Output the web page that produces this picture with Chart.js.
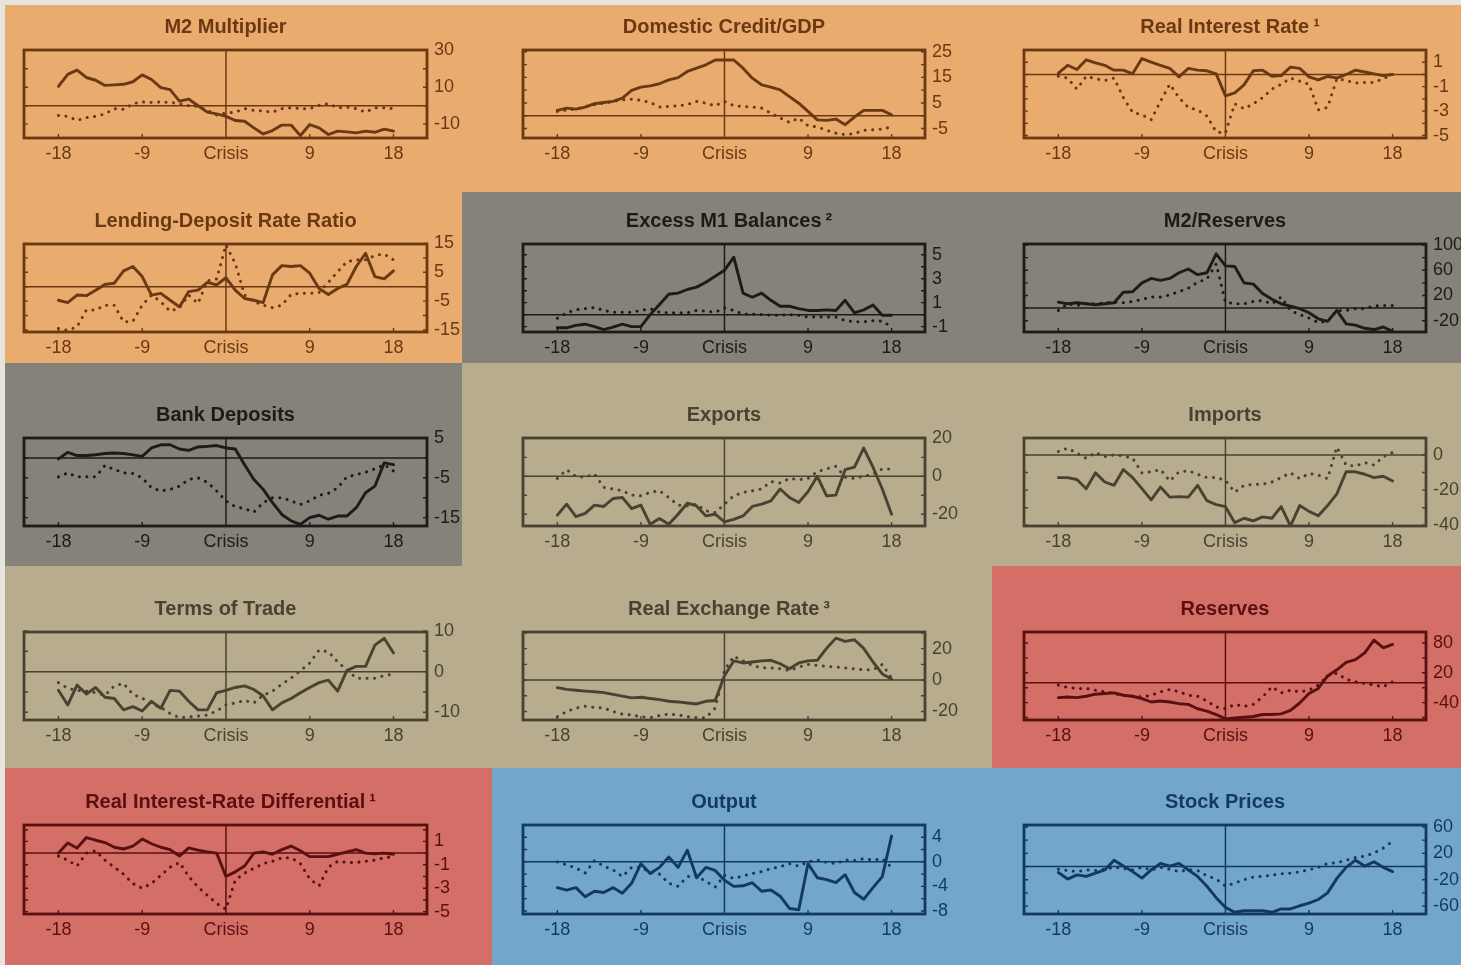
<!DOCTYPE html>
<html>
<head>
<meta charset="utf-8">
<title>Indicators around crises</title>
<script src="https://cdn.jsdelivr.net/npm/chart.js@4.4.1/dist/chart.umd.min.js"></script>
<style>
  html, body { margin: 0; padding: 0; }
  body {
    width: 1461px; height: 965px; overflow: hidden; position: relative;
    background: #E7E3DD;
    font-family: "Liberation Sans", Arial, sans-serif;
  }
  .bg { position: absolute; }
  canvas { position: absolute; }
</style>
</head>
<body>
<script>
// ---- months around the crisis date and the x-axis labels ----
const MONTHS = [-18,-17,-16,-15,-14,-13,-12,-11,-10,-9,-8,-7,-6,-5,-4,-3,-2,-1,0,1,2,3,4,5,6,7,8,9,10,11,12,13,14,15,16,17,18];
const X_TICKS = [-18, -9, 0, 9, 18];
const X_TICK_LABELS = ['-18', '-9', 'Crisis', '9', '18'];

// ---- series: solid = crisis episode, dotted = comparison path ----
const M2_MULT_SOLID  = [10.5,17,19.3,15.3,13.8,11,11.3,11.6,13,16.7,14.2,9.8,8.7,2.5,3.6,0,-3.5,-4.4,-5.8,-8,-8.4,-12,-15.3,-13.5,-10.5,-10.5,-16.2,-10.2,-12,-15.6,-13.8,-14.2,-14.7,-13.8,-14.4,-12.7,-13.8];
const M2_MULT_DOTTED = [-5.3,-5.8,-8,-6.5,-5.8,-4.4,-1.6,-2,1.1,2,1.8,2,1.8,1.1,0,-0.4,-2.5,-5,-4,-3.5,-1.6,-2.5,-2.9,-3.5,-1.6,-1.1,-1.6,-1.6,0.2,1.1,-1.1,-0.7,-1.6,-3.5,-1.1,-1.1,-1.6];
const M2_MULT_TICKS  = [30, 10, -10];

const CREDIT_SOLID  = [2.1,3.0,2.6,3.4,4.7,5.2,5.6,6.9,9.9,11.2,11.7,12.5,14.0,14.9,17.3,18.6,19.9,21.8,21.8,21.8,18.6,14.7,12.1,11.2,10.1,7.5,4.9,1.7,-1.6,-1.8,-1.3,-3.5,-0.5,2.1,2.1,2.1,0.4];
const CREDIT_DOTTED = [1.7,2.3,2.6,3.6,4.3,4.9,5.6,6.2,6.5,6.0,5.2,3.4,3.6,3.9,4.4,5.6,4.9,3.9,5.6,3.9,3.6,3.4,3.0,1.0,-0.9,-2.6,-0.9,-3.9,-4.4,-5.7,-6.8,-7.4,-7.0,-5.7,-5.5,-5.2,-4.4];
const CREDIT_TICKS  = [25, 15, 5, -5];

const REAL_RATE_SOLID  = [0.1,0.75,0.4,1.2,0.95,0.75,0.35,0.35,0.05,1.3,1.0,0.75,0.5,-0.2,0.5,0.35,0.3,0.05,-1.75,-1.5,-0.85,0.3,0.35,-0.15,-0.1,0.6,0.5,-0.2,-0.45,-0.15,-0.3,0,0.35,0.2,0.05,-0.1,0];
const REAL_RATE_DOTTED = [-0.15,-0.3,-1.2,-0.15,-0.35,-0.5,-0.3,-1.9,-3.1,-3.3,-3.7,-2.2,-0.8,-1.9,-2.7,-2.9,-3.4,-4.7,-4.8,-2.4,-2.8,-2.4,-1.9,-1.2,-0.8,-0.3,-0.55,-0.8,-2.9,-2.7,-0.35,-0.5,-0.7,-0.65,-0.65,-0.35,0];
const REAL_RATE_TICKS  = [1, -1, -3, -5];

const LEND_DEP_SOLID  = [-4.7,-5.5,-2.9,-3.1,-1.2,0.8,1.2,5.5,7.0,3.5,-2.9,-2.3,-4.7,-7.0,-1.7,-1.2,1.5,0.6,3.1,-1.2,-4.1,-4.7,-5.5,4.1,7.3,7.0,7.3,4.7,-0.6,-2.7,-0.6,0.8,7.0,11.6,3.5,2.7,5.5];
const LEND_DEP_DOTTED = [-14.5,-15.1,-13.9,-8.1,-8.1,-6.4,-6.4,-12.2,-12,-6.4,-2.9,-5.2,-8.5,-7.3,-2.9,-5.8,2.0,2.7,14.5,8.0,-2.9,-5.2,-6.4,-7.3,-6.4,-2.7,-2.3,-2.3,-2.0,1.5,5.2,8.7,9.3,9.3,10.8,11.3,9.3];
const LEND_DEP_TICKS  = [15, 5, -5, -15];

const EXCESS_M1_SOLID  = [-1.1,-1.1,-0.9,-0.8,-1.0,-1.25,-1.05,-0.8,-1.0,-1.0,0,0.85,1.7,1.8,2.1,2.3,2.7,3.2,3.7,4.8,1.8,1.45,1.8,1.2,0.7,0.7,0.5,0.35,0.35,0.4,0.35,1.2,0.15,0.4,0.8,-0.05,-0.05];
const EXCESS_M1_DOTTED = [-0.3,0.15,0.4,0.5,0.6,0.35,0.2,0.2,0.2,0.35,0.5,0.2,0.15,0.15,0.15,0.35,0.3,0.2,0.55,0.35,0.05,0.05,0,-0.05,-0.05,0,-0.05,-0.2,-0.2,-0.2,-0.2,-0.5,-0.6,-0.6,-0.5,-0.55,-1.0];
const EXCESS_M1_TICKS  = [5, 3, 1, -1];

const M2_RES_SOLID  = [9.5,6.8,8.4,6.8,5.3,6.8,8.4,25,26,40,47,44,47,56,62,53,56,86,67,66,40,38,23,14,6.8,3.2,-1,-7.4,-17,-21,-3.7,-25,-27,-32,-34,-30,-37];
const M2_RES_DOTTED = [-3.7,6.8,4.2,6.8,6.8,8.4,9.5,8.4,10.5,13.7,17.4,17.4,21,26,31.6,41,46,70,9.5,6.8,6.8,10.5,12,6.8,17.4,-3.7,-10.5,-15.8,-23,-21,-3.7,-3.7,-1,-1,3.2,4.2,4.2];
const M2_RES_TICKS  = [100, 60, 20, -20];

const DEPOSITS_SOLID  = [-0.25,1.4,0.6,0.6,0.8,1.1,1.25,1.1,0.75,0.4,2.5,3.3,3.3,2.25,1.9,2.75,2.9,3.1,2.5,2.25,-1.7,-5.4,-7.9,-11.25,-14.2,-15.8,-16.7,-15,-14.4,-15.4,-14.6,-14.6,-12.5,-8.75,-7.1,-1.25,-1.7];
const DEPOSITS_DOTTED = [-4.75,-3.75,-4.75,-4.75,-4.75,-1.9,-2.9,-3.75,-3.9,-5,-7.5,-8.3,-7.9,-7.1,-5.4,-5,-6.1,-8.3,-10.8,-12.25,-12.75,-13.6,-11.25,-10,-10,-10.8,-11.7,-10.8,-9.4,-8.9,-7.5,-4.75,-4.2,-3.6,-2.75,-1.7,-3.3];
const DEPOSITS_TICKS  = [5, -5, -15];

const EXPORTS_SOLID  = [-20.5,-14.7,-21.2,-19.5,-15.2,-15.9,-11.7,-11.2,-17,-15.2,-25.3,-22.3,-25.3,-20,-14.2,-15.6,-20.9,-20,-24,-22.7,-20.9,-15.9,-14.7,-12.9,-6.7,-11.2,-13.8,-8.1,0,-10.3,-9.9,3.5,4.8,14.9,4.8,-6.7,-20];
const EXPORTS_DOTTED = [-1.1,3.5,0,-0.5,1.2,-5.8,-6.7,-7.6,-9.9,-10.3,-8.5,-7.6,-11.2,-15.2,-15.6,-14.7,-18.2,-19.1,-14.7,-10.3,-8.5,-7.6,-6.7,-2.8,-3.5,-1.1,-1.8,-1.1,2.5,3.9,5.3,-0.5,-1.1,0,1.2,3.9,3.9];
const EXPORTS_TICKS  = [20, 0, -20];

const IMPORTS_SOLID  = [-12.9,-12.9,-14,-19.2,-10.2,-15.4,-17.3,-8.3,-12.9,-19.2,-25.6,-18.3,-24,-23.7,-24,-17.3,-26,-28.3,-29.4,-38.5,-36,-37.5,-35.2,-36,-29.4,-40.4,-28.8,-32.1,-34.6,-28.8,-22.1,-9.6,-9.6,-11,-12.9,-12.1,-14.8];
const IMPORTS_DOTTED = [1.9,3.8,1,-1.9,1.3,-1,0,-0.6,-1.9,-10.2,-9.6,-8.3,-14.8,-9.6,-9,-11,-12.9,-12.9,-14.4,-21.2,-17.3,-16.7,-16.7,-15.4,-12.9,-10.2,-13.5,-10.6,-11.5,-13.5,4.4,-5.8,-6.3,-4.4,-5.8,-1,1.3];
const IMPORTS_TICKS  = [0, -20, -40];

const TOT_SOLID  = [-4.6,-8.2,-3.3,-5.5,-3.9,-6.3,-6.6,-9.4,-8.6,-9.7,-7.3,-9.0,-4.6,-4.8,-7.3,-9.4,-9.4,-5.2,-4.6,-3.9,-3.5,-4.4,-6.0,-9.4,-7.7,-6.6,-5.2,-3.9,-2.7,-2.1,-4.8,0.3,1.3,1.3,6.5,8.2,4.6];
const TOT_DOTTED = [-2.7,-4.1,-4.6,-4.8,-5.2,-5.8,-3.5,-2.9,-5.6,-6.5,-8.0,-8.8,-10.3,-11.3,-11.2,-10.9,-10.7,-9.7,-8.2,-7.7,-7.1,-7.7,-5.8,-4.8,-3.1,-1.6,0.25,2.1,5.3,4.9,2.4,0.4,-1.6,-1.6,-1.6,-1.0,-0.6];
const TOT_TICKS  = [10, 0, -10];

const RER_SOLID  = [-4.8,-5.9,-6.5,-7,-7.4,-8,-9.1,-10.2,-11.3,-10.9,-11.7,-12.4,-13.5,-13.9,-14.6,-15.2,-13.5,-13,2.8,12.2,10.9,11.5,12.2,12.6,10.4,7.2,10.9,12.2,12.6,20.2,26.7,24.6,25.7,20.2,11.5,3.9,0.7];
const RER_DOTTED = [-23.3,-20,-17.8,-16.7,-17.4,-17.8,-20,-21.7,-22.2,-23.3,-23.9,-22.6,-21.7,-22.2,-23.3,-23.9,-23.9,-17.8,6.1,15.2,12.2,9.3,7.8,7.8,7.2,6.1,8.3,10,9.3,8.7,8.3,7.8,7.2,6.5,6.5,10,1.3];
const RER_TICKS  = [20, 0, -20];

const RESERVES_SOLID  = [-30,-28.6,-30,-27.2,-23.1,-21.8,-20.4,-25.2,-27.2,-32,-38.8,-36.7,-38.8,-42.2,-43.5,-52.4,-57.1,-64,-72.8,-70.7,-69.4,-68,-64,-64,-62.6,-55.8,-40.8,-21.8,-11.6,13.6,25.9,40.8,46.3,59.9,85.7,70,76.9];
const RESERVES_DOTTED = [-4.8,-9.5,-11.6,-11.6,-15,-18.4,-21.8,-25.2,-27.2,-28.6,-25.2,-18.4,-13.6,-18.4,-25.2,-27.2,-36.7,-49,-52.4,-43.5,-47.6,-43.5,-28.6,-8.2,-20.4,-15,-18.4,-15,-4.8,13.6,19,6.8,2,-1.4,-4.8,-8.2,2];
const RESERVES_TICKS  = [80, 20, -40];

const RATE_DIFF_SOLID  = [0,0.86,0.44,1.33,1.1,0.9,0.5,0.35,0.6,1.2,0.8,0.5,0.3,-0.25,0.44,0.25,0.1,0,-2.0,-1.6,-1.1,0.0,0.1,-0.1,0.3,0.6,0.2,-0.3,-0.3,-0.3,-0.1,0.1,0.3,0.0,-0.05,0.0,-0.1];
const RATE_DIFF_DOTTED = [-0.25,-0.6,-1.1,0.0,0.2,-0.6,-1.2,-1.8,-2.6,-3.0,-2.6,-1.9,-1.2,-0.8,-2.0,-2.9,-3.6,-4.3,-4.8,-2.3,-1.7,-1.3,-0.9,-0.7,-0.4,-0.4,-0.9,-2.2,-2.8,-1.2,-0.7,-0.8,-0.8,-0.7,-0.6,-0.4,-0.3];
const RATE_DIFF_TICKS  = [1, -1, -3, -5];

const OUTPUT_SOLID  = [-4.2,-4.6,-4.2,-5.7,-4.8,-5.0,-4.2,-5.1,-3.5,-0.3,-1.9,-0.9,0.8,-0.9,1.9,-2.6,-0.9,-1.4,-3.0,-4.0,-3.9,-3.4,-4.8,-4.6,-5.6,-7.6,-7.8,-0.3,-2.6,-2.9,-3.4,-2.1,-5.0,-6.1,-4.2,-2.4,4.2];
const OUTPUT_DOTTED = [0.0,-0.5,-1.0,-1.8,0.2,-0.7,-1.3,-2.4,-0.9,-0.9,-1.7,-2.0,-3.5,-4.0,-2.4,-2.3,-3.2,-4.1,-2.2,-2.7,-2.3,-1.9,-1.6,-1.1,-0.8,-0.3,-0.7,0.0,0.3,-0.1,-0.3,0.3,0.2,0.5,0.3,0.5,-0.9];
const OUTPUT_TICKS  = [4, 0, -4, -8];

const STOCKS_SOLID  = [-9.1,-19,-12.6,-15,-10,-5.2,9.6,0.7,-7.7,-17.5,-5.2,4.7,0.7,4.7,-5.2,-15,-29.9,-47.2,-62,-69.4,-67,-67,-67,-69.4,-64.4,-64.4,-59.5,-55.6,-50,-40,-18,-1.2,9.6,0.7,7.2,-1.2,-7.7];
const STOCKS_DOTTED = [-4.2,-6,-7.7,-5.2,-6,-4.2,-1.2,-3,-5.2,-1.2,-5.2,-1.2,-4.2,-7.7,-5.2,-6,-14,-19,-29.9,-25,-20,-16,-15,-13,-11,-10,-8,-5,-1.2,4.7,5.7,9.6,13.6,15.6,20.5,28,38.3];
const STOCKS_TICKS  = [60, 20, -20, -60];

// ---- colours of the panel groups ----
const THEMES = {
  orange: { bg: '#E9AC6E', ink: '#6A3813' },
  gray:   { bg: '#85827A', ink: '#1C1B19' },
  tan:    { bg: '#B8AC8F', ink: '#4A4132' },
  red:    { bg: '#D36F67', ink: '#5A1010' },
  blue:   { bg: '#73A6CB', ink: '#133A5E' }
};

// coloured backdrop blocks: [theme, left, top, right, bottom]
const REGIONS = [
  ['orange', 5, 5, 1461, 192], ['orange', 5, 192, 462, 363],
  ['gray', 462, 192, 1461, 363], ['gray', 5, 363, 462, 566],
  ['tan', 462, 363, 1461, 566], ['tan', 5, 566, 992, 768],
  ['red', 992, 566, 1461, 768], ['red', 5, 768, 492, 965],
  ['blue', 492, 768, 1461, 965]
];

// plot-box grid
const COL_LEFT = [24, 523, 1024];
const COL_RIGHT = [427, 925, 1426];
const ROW_TOP = [50, 244, 438, 632, 825];
const ROW_BOTTOM = [138, 332, 526, 720, 914];
const X_MIN = -21.7, X_MAX = 21.6;

const PANELS = [
  { title: 'M2 Multiplier', col: 0, row: 0, theme: 'orange', min: -17.5, max: 30.2, ticks: M2_MULT_TICKS, solid: M2_MULT_SOLID, dotted: M2_MULT_DOTTED },
  { title: 'Domestic Credit/GDP', col: 1, row: 0, theme: 'orange', min: -8.7, max: 25.7, ticks: CREDIT_TICKS, solid: CREDIT_SOLID, dotted: CREDIT_DOTTED },
  { title: '\u2002Real Interest Rate\u2009\u00B9', col: 2, row: 0, theme: 'orange', min: -5.2, max: 2.0, ticks: REAL_RATE_TICKS, solid: REAL_RATE_SOLID, dotted: REAL_RATE_DOTTED },
  { title: 'Lending-Deposit Rate Ratio', col: 0, row: 1, theme: 'orange', min: -15.7, max: 14.8, ticks: LEND_DEP_TICKS, solid: LEND_DEP_SOLID, dotted: LEND_DEP_DOTTED },
  { title: '\u2002Excess M1 Balances\u2009\u00B2', col: 1, row: 1, theme: 'gray', min: -1.45, max: 5.9, ticks: EXCESS_M1_TICKS, solid: EXCESS_M1_SOLID, dotted: EXCESS_M1_DOTTED },
  { title: 'M2/Reserves', col: 2, row: 1, theme: 'gray', min: -37.9, max: 101.6, ticks: M2_RES_TICKS, solid: M2_RES_SOLID, dotted: M2_RES_DOTTED },
  { title: 'Bank Deposits', col: 0, row: 2, theme: 'gray', min: -17.1, max: 5.0, ticks: DEPOSITS_TICKS, solid: DEPOSITS_SOLID, dotted: DEPOSITS_DOTTED },
  { title: 'Exports', col: 1, row: 2, theme: 'tan', min: -26.2, max: 20.2, ticks: EXPORTS_TICKS, solid: EXPORTS_SOLID, dotted: EXPORTS_DOTTED },
  { title: 'Imports', col: 2, row: 2, theme: 'tan', min: -40.4, max: 9.6, ticks: IMPORTS_TICKS, solid: IMPORTS_SOLID, dotted: IMPORTS_DOTTED },
  { title: 'Terms of Trade', col: 0, row: 3, theme: 'tan', min: -11.9, max: 9.75, ticks: TOT_TICKS, solid: TOT_SOLID, dotted: TOT_DOTTED },
  { title: '\u2002Real Exchange Rate\u2009\u00B3', col: 1, row: 3, theme: 'tan', min: -25.4, max: 30.6, ticks: RER_TICKS, solid: RER_SOLID, dotted: RER_DOTTED },
  { title: 'Reserves', col: 2, row: 3, theme: 'red', min: -75, max: 102, ticks: RESERVES_TICKS, solid: RESERVES_SOLID, dotted: RESERVES_DOTTED },
  { title: '\u2002Real Interest-Rate Differential\u2009\u00B9', col: 0, row: 4, theme: 'red', min: -5.2, max: 2.4, ticks: RATE_DIFF_TICKS, solid: RATE_DIFF_SOLID, dotted: RATE_DIFF_DOTTED },
  { title: 'Output', col: 1, row: 4, theme: 'blue', min: -8.5, max: 6.0, ticks: OUTPUT_TICKS, solid: OUTPUT_SOLID, dotted: OUTPUT_DOTTED },
  { title: 'Stock Prices', col: 2, row: 4, theme: 'blue', min: -72, max: 63, ticks: STOCKS_TICKS, solid: STOCKS_SOLID, dotted: STOCKS_DOTTED }
];

const FONT = "'Liberation Sans', Arial, Helvetica, sans-serif";
const SIDE = 44;      // room for the right-hand value labels (mirrored on the left)
const TOP_ROOM = 40;  // title band above the plot box
const BOTTOM_ROOM = 34;

// frame, zero line, crisis line and the small inner tick marks
const framePlugin = {
  id: 'panelFrame',
  beforeDatasetsDraw(chart, args, opts) {
    const { ctx, chartArea: a, scales: { x, y } } = chart;
    const y0 = y.getPixelForValue(0);
    const x0 = x.getPixelForValue(0);
    ctx.save();
    ctx.strokeStyle = opts.color;
    ctx.lineWidth = 1.5;
    ctx.beginPath();
    ctx.moveTo(a.left, y0); ctx.lineTo(a.right, y0);
    ctx.moveTo(x0, a.top); ctx.lineTo(x0, a.bottom);
    ctx.stroke();
    ctx.restore();
  },
  afterDatasetsDraw(chart, args, opts) {
    const { ctx, chartArea: a, scales: { x, y } } = chart;
    ctx.save();
    ctx.strokeStyle = opts.color;
    ctx.lineWidth = 1.4;
    ctx.beginPath();
    const vals = opts.yTicks;
    const half = (vals[0] - vals[1]) / 2;
    let v = vals[0];
    while (v + half <= y.max) v += half;
    for (; v >= y.min; v -= half) {
      const py = y.getPixelForValue(v);
      ctx.moveTo(a.left, py); ctx.lineTo(a.left + 4, py);
      ctx.moveTo(a.right, py); ctx.lineTo(a.right - 4, py);
    }
    X_TICKS.forEach(t => {
      if (t === 0) return;
      const px = x.getPixelForValue(t);
      ctx.moveTo(px, a.bottom); ctx.lineTo(px, a.bottom - 4);
    });
    ctx.stroke();
    ctx.lineWidth = 2.8;
    ctx.strokeRect(a.left, a.top, a.right - a.left, a.bottom - a.top);
    ctx.restore();
  }
};

// backdrop blocks
REGIONS.forEach(([theme, l, t, r, b]) => {
  const d = document.createElement('div');
  d.className = 'bg';
  Object.assign(d.style, { left: l + 'px', top: t + 'px', width: (r - l) + 'px', height: (b - t) + 'px', background: THEMES[theme].bg });
  document.body.appendChild(d);
});

function makePanel(p) {
  const ink = THEMES[p.theme].ink;
  const L = COL_LEFT[p.col], R = COL_RIGHT[p.col];
  const T = ROW_TOP[p.row], B = ROW_BOTTOM[p.row];
  const w = (R - L) + 2 * SIDE;
  const h = (B - T) + TOP_ROOM + BOTTOM_ROOM;
  const canvas = document.createElement('canvas');
  canvas.width = w; canvas.height = h;
  Object.assign(canvas.style, { left: (L - SIDE) + 'px', top: (T - TOP_ROOM) + 'px', width: w + 'px', height: h + 'px' });
  document.body.appendChild(canvas);

  const toPoints = vals => MONTHS.map((m, i) => ({ x: m, y: vals[i] }));

  new Chart(canvas, {
    type: 'line',
    data: {
      datasets: [
        { data: toPoints(p.dotted), borderColor: ink, borderWidth: 3, borderDash: [0.1, 7.4], borderCapStyle: 'round',
          pointRadius: 0, tension: 0, fill: false },
        { data: toPoints(p.solid), borderColor: ink, borderWidth: 2.9, borderJoinStyle: 'round', borderCapStyle: 'round',
          pointRadius: 0, tension: 0, fill: false }
      ]
    },
    options: {
      responsive: false,
      animation: false,
      events: [],
      layout: { padding: { left: SIDE, right: 0, top: 5.5, bottom: 0 } },
      plugins: {
        legend: { display: false },
        tooltip: { enabled: false },
        title: {
          display: true, text: p.title, color: ink, fullSize: false,
          font: { family: FONT, size: 20, weight: 'bold', lineHeight: 1.2 },
          padding: { top: 0, bottom: 10.5 }
        },
        panelFrame: { color: ink, yTicks: p.ticks }
      },
      scales: {
        x: {
          type: 'linear', min: X_MIN, max: X_MAX,
          grid: { display: false, drawTicks: false },
          border: { display: false },
          afterBuildTicks: axis => { axis.ticks = X_TICKS.map(v => ({ value: v })); },
          afterFit: axis => { axis.height = BOTTOM_ROOM; },
          ticks: {
            autoSkip: false, maxRotation: 0, minRotation: 0, padding: 5, color: ink,
            font: { family: FONT, size: 18 },
            callback: (v, i) => X_TICK_LABELS[i]
          }
        },
        y: {
          type: 'linear', position: 'right', min: p.min, max: p.max,
          grid: { display: false, drawTicks: false },
          border: { display: false },
          afterBuildTicks: axis => { axis.ticks = p.ticks.map(v => ({ value: v })); },
          afterFit: axis => { axis.width = SIDE; },
          ticks: {
            autoSkip: false, padding: 7, color: ink,
            font: { family: FONT, size: 18 },
            callback: v => String(v)
          }
        }
      }
    },
    plugins: [framePlugin]
  });
}

PANELS.forEach(makePanel);
</script>
</body>
</html>
